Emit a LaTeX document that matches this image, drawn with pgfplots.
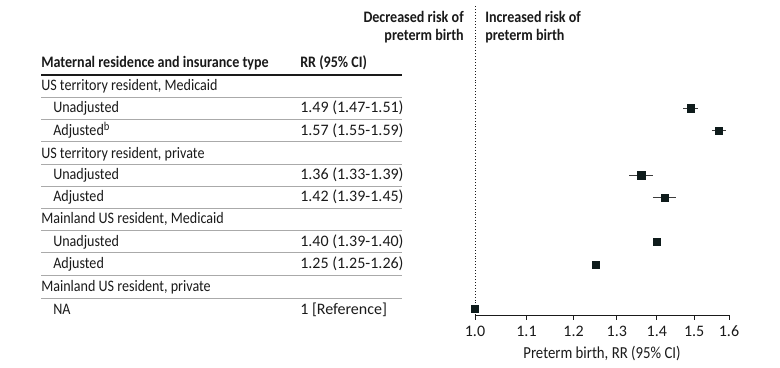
\documentclass[border=0pt]{standalone}
\usepackage{pgfplots}
\pgfplotsset{compat=1.18}
\usepackage{fontspec}
\setmainfont{Carlito}[FakeStretch=0.88]
\newfontfamily\numfont{Carlito}
\definecolor{ink}{HTML}{1A1A1A}
\definecolor{mk}{HTML}{0E1B1B}
\definecolor{rule}{HTML}{AAAAAA}
\def\u{0.75pt}
\newcommand\fs{\fontsize{12}{13.5}\selectfont}
\begin{document}
\begin{tikzpicture}[font=\fs, text=ink]
\useasboundingbox (0,0) rectangle (780*\u,-367*\u);
% forest plot: rows are numbered 0 (first group) down to -10 (reference)
\begin{axis}[
  at={(475*\u,-315*\u)}, anchor=south west,
  scale only axis, width=254*\u, height=310*\u,
  xmode=log, xmin=1, xmax=1.6,
  ymin=-10.27, ymax=3.63,
  axis x line*=bottom, axis y line=none,
  axis line style={-, ink, line width=0.6pt},
  xtick={1,1.1,1.2,1.3,1.4,1.5,1.6},
  xticklabels={1.0,1.1,1.2,1.3,1.4,1.5,1.6},
  minor xtick={}, tick align=outside, major tick length=3.5pt,
  tick style={ink, line width=0.6pt},
  xticklabel style={font=\fs\numfont, text=ink, yshift=-1pt},
  xlabel={Preterm birth, RR (95\% CI)},
  xlabel style={font=\fontsize{12.6}{13.5}\selectfont, text=ink},
  clip=false,
]
% null line
\addplot[ink, line width=0.6pt, dash pattern=on 0.6pt off 1.6pt] coordinates {(1,-10.27) (1,3.63)};
% 95% confidence intervals
\addplot[ink!85, line width=0.75pt, unbounded coords=jump] table[row sep=\\] {
x y\\
1.47 -1\\ 1.51 -1\\ nan nan\\
1.55 -2\\ 1.59 -2\\ nan nan\\
1.33 -4\\ 1.39 -4\\ nan nan\\
1.39 -5\\ 1.45 -5\\ nan nan\\
1.39 -7\\ 1.40 -7\\ nan nan\\
1.25 -8\\ 1.26 -8\\
};
% point estimates
\addplot[only marks, mark=square*, mark size=2.7pt, mk] coordinates {
(1.49,-1) (1.57,-2) (1.36,-4) (1.42,-5) (1.40,-7) (1.25,-8) (1.00,-10)};
\end{axis}

% direction captions
\node[anchor=east, align=right, font=\fontsize{12}{13.5}\selectfont\bfseries, inner sep=0] at (464*\u,-27*\u) {Decreased risk of\\preterm birth};
\node[anchor=west, align=left, font=\fontsize{12}{13.5}\selectfont\bfseries, inner sep=0] at (485*\u,-27*\u) {Increased risk of\\preterm birth};

% table header
\node[anchor=base west, inner sep=0, font=\fs\bfseries] at (41*\u,-68*\u) {Maternal residence and insurance type};
\node[anchor=base west, inner sep=0, font=\fs\bfseries] at (300*\u,-68*\u) {RR (95\% CI)};
\draw[ink, line width=1.5pt] (41*\u,-75*\u) -- (402*\u,-75*\u);

% table body
\foreach \yy/\xx/\lab/\rr in {
 86/41/{US territory resident, Medicaid}/{},
 108/53/{Unadjusted}/{1.49 (1.47-1.51)},
 130/53/{Adjusted\raisebox{0.6ex}{\fontsize{9}{10}\selectfont b}}/{1.57 (1.55-1.59)},
 153/41/{US territory resident, private}/{},
 174/53/{Unadjusted}/{1.36 (1.33-1.39)},
 196/53/{Adjusted}/{1.42 (1.39-1.45)},
 218/41/{Mainland US resident, Medicaid}/{},
 241/53/{Unadjusted}/{1.40 (1.39-1.40)},
 263/53/{Adjusted}/{1.25 (1.25-1.26)},
 286/41/{Mainland US resident, private}/{},
 309/53/{NA}/{1 [Reference]}}{
  \node[anchor=base west, inner sep=0] at (\xx*\u,-\yy*\u-5*\u) {\lab};
  \node[anchor=base west, inner sep=0, font=\fs\numfont] at (300*\u,-\yy*\u-5*\u) {\rr};
}
\foreach \yy in {97,119,141,164,186,208,230,252,275,298}{
  \draw[rule, line width=0.6pt] (41*\u,-\yy*\u) -- (402*\u,-\yy*\u);
}
\end{tikzpicture}
\end{document}
